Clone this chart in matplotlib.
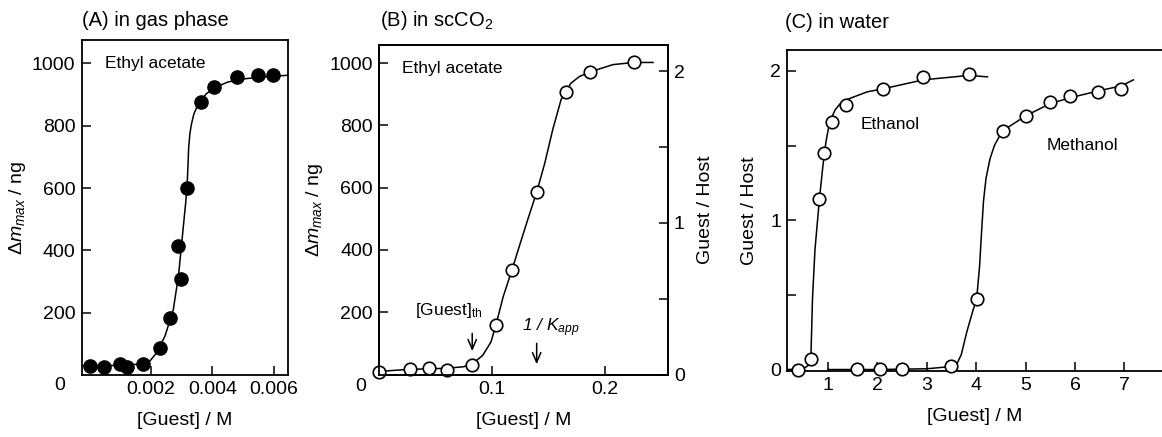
import numpy as np
import matplotlib
matplotlib.use('Agg')
import matplotlib.pyplot as plt

plt.rcParams['font.family'] = ['Liberation Sans', 'DejaVu Sans']
plt.rcParams['mathtext.fontset'] = 'custom'
plt.rcParams['mathtext.rm'] = 'Liberation Sans'
plt.rcParams['mathtext.it'] = 'Liberation Sans:italic'
plt.rcParams['mathtext.bf'] = 'Liberation Sans:bold'

# (A) gas phase, ethyl acetate
gasX = [0.00002, 0.00047, 0.00099, 0.00121, 0.00173, 0.00229, 0.00262, 0.00287,
        0.00298, 0.00318, 0.00363, 0.00405, 0.00481, 0.00549, 0.00596]
gasY = [29, 26, 35, 26, 35, 86, 182, 413, 307, 600, 877, 923, 957, 963, 963]
gasFitX = [-0.00025, 0.0005, 0.0010, 0.0015, 0.00197, 0.00219, 0.00246, 0.00273,
           0.00290, 0.00300, 0.00308, 0.00314, 0.00318, 0.00321, 0.00323, 0.00327,
           0.00332, 0.00340, 0.00349, 0.0036, 0.0038, 0.0041, 0.0045, 0.0050, 0.0056,
           0.0062, 0.00647]
gasFitY = [30, 30, 31, 34, 45, 72, 125, 210, 320, 420, 500, 560, 610, 680, 730, 775,
           805, 838, 858, 877, 902, 923, 940, 950, 956, 960, 962]

# (B) scCO2, ethyl acetate
scX = [0.0, 0.0272, 0.0442, 0.0597, 0.0822, 0.1036, 0.1178, 0.1397, 0.1653, 0.1873, 0.2258]
scY = [8, 19, 22, 16, 29, 160, 336, 587, 906, 970, 1002]
scFitX = [0.0, 0.02, 0.04, 0.06, 0.075, 0.0828, 0.0917, 0.0991, 0.1036, 0.1068, 0.1100,
          0.1178, 0.1250, 0.1320, 0.1397, 0.1470, 0.1540, 0.1614, 0.1700, 0.1777,
          0.1873, 0.2074, 0.2258, 0.243]
scFitY = [10, 15, 18, 20, 25, 35, 61, 104, 160, 205, 250, 336, 420, 500, 585, 680,
          787, 883, 935, 957, 972, 995, 1002, 1002]

# (C) water, ethanol and methanol
ethX = [0.40, 0.655, 0.83, 0.92, 1.09, 1.37, 2.12, 2.93, 3.86]
ethY = [0.0, 0.072, 1.14, 1.45, 1.66, 1.77, 1.88, 1.96, 1.98]
ethFitX = [0.18, 0.5, 0.62, 0.66, 0.69, 0.74, 0.83, 0.90, 0.96, 1.01, 1.08, 1.15,
           1.25, 1.40, 1.80, 2.12, 2.93, 3.86, 4.23]
ethFitY = [0.0, 0.005, 0.03, 0.10, 0.47, 0.80, 1.14, 1.36, 1.52, 1.61, 1.69, 1.74,
           1.78, 1.81, 1.86, 1.88, 1.94, 1.97, 1.96]
metX = [1.60, 2.06, 2.51, 3.50, 4.01, 4.54, 5.01, 5.49, 5.90, 6.46, 6.94]
metY = [0.004, 0.004, 0.004, 0.022, 0.47, 1.60, 1.70, 1.79, 1.83, 1.86, 1.88]
metFitX = [1.0, 2.0, 3.0, 3.5, 3.6, 3.7, 3.81, 3.94, 4.01, 4.07, 4.11, 4.15, 4.20,
           4.28, 4.37, 4.45, 4.54, 5.01, 5.49, 5.90, 6.46, 6.94, 7.18]
metFitY = [0.0, 0.0, 0.005, 0.02, 0.03, 0.10, 0.25, 0.40, 0.47, 0.69, 0.92, 1.13, 1.28,
           1.41, 1.50, 1.55, 1.60, 1.70, 1.78, 1.82, 1.865, 1.90, 1.94]

FS = 14
NOTE_FS = 12.5
TITLE_FS = 14.5
lineKw = dict(color='black', lw=1.1, zorder=2)
filledKw = dict(ls='none', marker='o', ms=9.5, mfc='black', mec='black', zorder=3, clip_on=False)
openKw = dict(ls='none', marker='o', ms=9, mfc='white', mec='black', mew=1.2, zorder=3, clip_on=False)
arrowKw = dict(arrowstyle='->,head_length=0.7,head_width=0.3', color='black', lw=1.1)
MASS_LABEL = r'$\mathit{Δm}_{max}$ / ng'


def styleAxis(ax):
    for s in ax.spines.values():
        s.set_linewidth(1.3)
    ax.tick_params(direction='in', length=6.5, width=1.1, labelsize=FS, pad=4.5)
    ax.tick_params(which='minor', direction='in', length=6.5, width=1.1)


def main():
    fig = plt.figure(figsize=(11.62, 4.37), dpi=100)
    axA = fig.add_axes([0.0703, 0.1419, 0.1778, 0.7666])
    axB = fig.add_axes([0.3264, 0.1430, 0.2482, 0.7540])
    axC = fig.add_axes([0.6775, 0.1510, 0.3225, 0.7346])

    # panel A
    axA.plot(gasFitX, gasFitY, **lineKw)
    axA.plot(gasX, gasY, **filledKw)
    axA.set_xlim(-0.00025, 0.00647)
    axA.set_ylim(0, 1075)
    axA.set_xticks([0.002, 0.004, 0.006])
    axA.set_xticklabels(['0.002', '0.004', '0.006'])
    axA.set_yticks([200, 400, 600, 800, 1000])
    styleAxis(axA)
    axA.text(-0.08, -0.03, '0', transform=axA.transAxes, ha='right', va='center', fontsize=FS)
    axA.text(0.0005, 1000, 'Ethyl acetate', ha='left', va='center', fontsize=NOTE_FS)
    axA.set_xlabel('[Guest] / M', fontsize=FS, labelpad=10)
    axA.set_ylabel(MASS_LABEL, fontsize=FS, labelpad=3)
    fig.text(0.0703, 1 - 21 / 437, '(A) in gas phase', ha='left', va='center', fontsize=TITLE_FS)

    # panel B
    axB.plot(scFitX, scFitY, **lineKw)
    axB.plot(scX, scY, **openKw)
    axB.set_xlim(0, 0.256)
    axB.set_ylim(0, 1058)
    axB.set_xticks([0.1, 0.2])
    axB.set_xticklabels(['0.1', '0.2'])
    axB.set_yticks([200, 400, 600, 800, 1000])
    styleAxis(axB)
    axB.text(-0.045, -0.035, '0', transform=axB.transAxes, ha='right', va='center', fontsize=FS)
    axB.text(0.02, 983, 'Ethyl acetate', ha='left', va='center', fontsize=NOTE_FS)
    axB.text(0.0614, 206, r'[Guest]$_\mathrm{th}$', ha='center', va='center', fontsize=NOTE_FS)
    axB.annotate('', xy=(0.0825, 66), xytext=(0.0825, 141), arrowprops=arrowKw)
    axB.text(0.152, 150, r'1 / $K_{app}$', ha='center', va='center', fontsize=NOTE_FS, style='italic')
    axB.annotate('', xy=(0.1397, 24), xytext=(0.1397, 109), arrowprops=arrowKw)
    axB.set_xlabel('[Guest] / M', fontsize=FS, labelpad=10)
    axB.set_ylabel(MASS_LABEL, fontsize=FS, labelpad=3)
    axB2 = axB.twinx()
    axB2.set_ylim(0, 1058 / 487)
    axB2.set_yticks([0, 1, 2])
    axB2.set_yticks([0.5, 1.5], minor=True)
    styleAxis(axB2)
    axB2.set_ylabel('Guest / Host', fontsize=FS, labelpad=9)
    fig.text(0.327, 1 - 21 / 437, r'(B) in scCO$_2$', ha='left', va='center', fontsize=TITLE_FS)

    # panel C
    axC.plot(ethFitX, ethFitY, **lineKw)
    axC.plot(metFitX, metFitY, **lineKw)
    axC.plot(ethX, ethY, **openKw)
    axC.plot(metX, metY, **openKw)
    axC.set_xlim(0.18, 7.76)
    axC.set_ylim(-0.01, 2.14)
    axC.set_xticks([1, 2, 3, 4, 5, 6, 7])
    axC.set_yticks([0, 1, 2])
    axC.set_yticks([0.5, 1.5], minor=True)
    axC.spines['right'].set_visible(False)
    styleAxis(axC)
    axC.text(2.27, 1.64, 'Ethanol', ha='center', va='center', fontsize=NOTE_FS)
    axC.text(6.15, 1.50, 'Methanol', ha='center', va='center', fontsize=NOTE_FS)
    axC.set_xlabel('[Guest] / M', fontsize=FS, labelpad=10)
    axC.set_ylabel('Guest / Host', fontsize=FS, labelpad=9)
    fig.text(0.6756, 1 - 23 / 437, '(C) in water', ha='left', va='center', fontsize=TITLE_FS)

    fig.savefig('out.png', dpi=100)


if __name__ == "__main__":
    main()
